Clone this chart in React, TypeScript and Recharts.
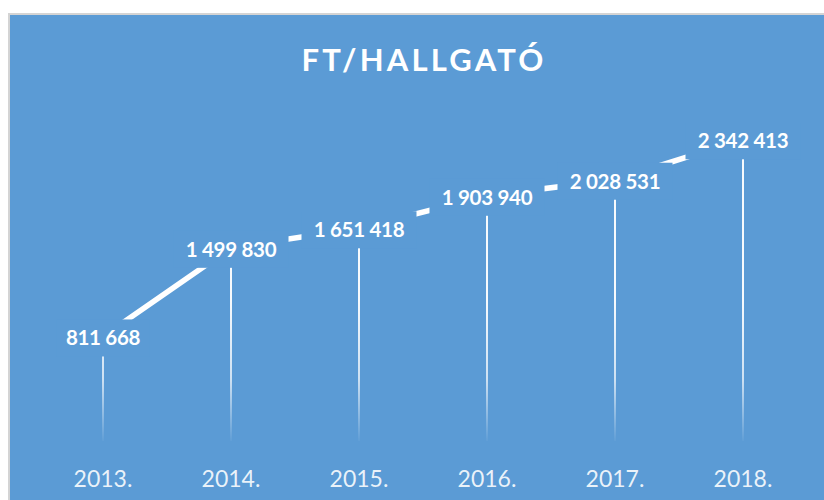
import { ComposedChart, Line, Bar, XAxis, YAxis, LabelList } from 'recharts';

const years = ['2013.', '2014.', '2015.', '2016.', '2017.', '2018.'];
const ftPerStudent = [811668, 1499830, 1651418, 1903940, 2028531, 2342413];

const data = years.map((year, i) => ({ year, value: ftPerStudent[i] }));

const BLUE = '#5B9BD5';
const FONT = 'Lato, "Open Sans", sans-serif';

const fmt = (v: number) => String(v).replace(/\B(?=(\d{3})+(?!\d))/g, ' ');

const ValueLabel = (props: any) => {
  const { x, y, value } = props;
  const text = fmt(value);
  const w = text.length * 11 + 16;
  return (
    <g>
      <rect x={x - w / 2} y={y - 17} width={w} height={37} fill={BLUE} />
      <text
        x={x}
        y={y + 9}
        textAnchor="middle"
        fill="#fff"
        fontFamily={FONT}
        fontWeight={700}
        fontSize={20.5}
        letterSpacing={-0.3}
      >
        {text}
      </text>
    </g>
  );
};

const YearTick = (props: any) => {
  const { x, y, payload } = props;
  return (
    <text x={x} y={y + 38} textAnchor="middle" fill="rgba(255,255,255,0.88)" fontFamily={FONT} fontSize={23}>
      {payload.value}
    </text>
  );
};

export default function App() {
  return (
    <div style={{ position: 'absolute', left: 0, top: 0, width: 824, height: 500, background: '#fff', overflow: 'hidden' }}>
      <div
        style={{
          position: 'absolute',
          left: 8,
          top: 13,
          width: 830,
          height: 500,
          background: BLUE,
          borderLeft: '2px solid #d4d4d4',
          borderTop: '2px solid #d4d4d4',
        }}
      />
      <svg width={0} height={0} style={{ position: 'absolute' }}>
        <defs>
          <linearGradient id="dropFade" gradientUnits="userSpaceOnUse" x1="0" y1="300" x2="0" y2="444">
            <stop offset="0" stopColor="#fff" stopOpacity={0.95} />
            <stop offset="0.55" stopColor="#fff" stopOpacity={0.7} />
            <stop offset="1" stopColor="#fff" stopOpacity={0} />
          </linearGradient>
        </defs>
      </svg>
      <div
        style={{
          position: 'absolute',
          left: 0,
          top: 40,
          width: 848,
          textAlign: 'center',
          color: '#fff',
          fontFamily: FONT,
          fontWeight: 700,
          fontSize: 31,
          letterSpacing: 3.2,
        }}
      >
        FT/HALLGATÓ
      </div>
      <div style={{ position: 'absolute', left: 0, top: 0 }}>
        <ComposedChart width={824} height={500} data={data} margin={{ top: 119, right: 17, bottom: 0, left: 39 }}>
          <XAxis dataKey="year" axisLine={false} tickLine={false} height={59} tick={<YearTick />} interval={0} />
          <YAxis hide domain={[0, 2500000]} />
          <Bar dataKey="value" barSize={2} fill="url(#dropFade)" isAnimationActive={false} />
          <Line
            type="linear"
            dataKey="value"
            stroke="#fff"
            strokeWidth={5.5}
            dot={false}
            activeDot={false}
            isAnimationActive={false}
          >
            <LabelList dataKey="value" content={<ValueLabel />} />
          </Line>
        </ComposedChart>
      </div>
    </div>
  );
}
